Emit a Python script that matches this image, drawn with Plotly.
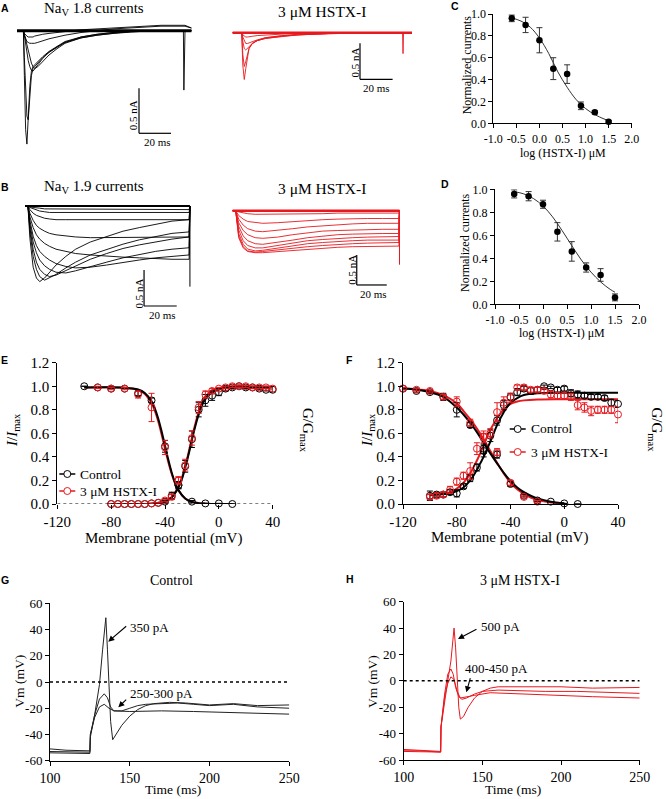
import plotly.graph_objects as go

W, H = 666, 799
SERIF = "Liberation Serif, Times New Roman, Times, serif"
SANS = "Liberation Sans, Arial, sans-serif"
RED = "#e8191e"
INK = "#000000"

# ---------------- DATA ----------------
# A: NaV1.8 current traces (time ms, current nA)
NAV18_T = [0, 4, 4.6, 5.4, 6.2, 7, 8, 9, 10, 11, 13, 16, 20, 25, 30, 40, 50, 60, 70, 80, 90, 100, 104, 104.3, 104.6, 105, 109]
NAV18_CTRL = [
    [0, 0, -0.5, -1.1, -1.26, -1.0, -0.62, -0.45, -0.40, -0.38, -0.34, -0.29, -0.23, -0.17, -0.12, -0.07, -0.04, -0.02, -0.01, 0, 0, 0, 0, -0.66, 0, 0, 0],
    [0, 0, -0.3, -0.7, -0.95, -0.99, -0.75, -0.50, -0.42, -0.40, -0.35, -0.30, -0.24, -0.18, -0.13, -0.08, -0.05, -0.03, -0.01, 0, 0, 0, 0, 0, 0, 0, 0],
    [0, 0, -0.05, -0.15, -0.25, -0.33, -0.40, -0.44, -0.45, -0.43, -0.38, -0.31, -0.24, -0.18, -0.13, -0.07, -0.04, -0.02, -0.01, 0, 0, 0, 0, 0, 0, 0, 0],
    [0, 0, -0.04, -0.1, -0.16, -0.22, -0.3, -0.36, -0.40, -0.42, -0.40, -0.34, -0.27, -0.2, -0.14, -0.08, -0.05, -0.03, -0.015, -0.005, 0, 0, 0, 0, 0, 0, 0],
    [0, 0, -0.05, -0.1, -0.12, -0.13, -0.14, -0.14, -0.14, -0.14, -0.13, -0.11, -0.09, -0.07, -0.05, -0.02, 0, 0.02, 0.03, 0.04, 0.05, 0.05, 0.05, 0.05, 0.05, 0.05, 0.03],
    [0, 0, -0.03, -0.05, -0.06, -0.07, -0.07, -0.07, -0.07, -0.06, -0.05, -0.04, -0.03, -0.02, -0.01, 0.01, 0.02, 0.03, 0.04, 0.05, 0.06, 0.06, 0.06, 0.06, 0.06, 0.06, 0.03],
]
NAV18_CTRL_BASE = [0] * 27

NAV18_HSTX_T = [0, 5.5, 6.2, 7.1, 8, 9, 10, 12, 15, 20, 30, 40, 60, 80, 100, 104.2, 104.5, 104.8, 110]
NAV18_HSTX = [
    [0, 0, -0.45, -0.65, -0.5, -0.32, -0.22, -0.15, -0.11, -0.07, -0.04, -0.03, -0.01, 0, 0, 0, -0.29, 0, 0],
    [0, 0, -0.3, -0.47, -0.4, -0.3, -0.22, -0.15, -0.11, -0.08, -0.05, -0.03, -0.01, 0, 0, 0, 0, 0, 0],
    [0, 0, -0.12, -0.22, -0.24, -0.22, -0.19, -0.15, -0.11, -0.08, -0.05, -0.03, -0.01, 0, 0, 0, 0, 0, 0],
    [0, 0, -0.06, -0.12, -0.15, -0.15, -0.14, -0.12, -0.1, -0.07, -0.04, -0.02, -0.01, 0, 0, 0, 0, 0, 0],
    [0, 0, -0.03, -0.05, -0.06, -0.06, -0.06, -0.05, -0.04, -0.03, -0.02, -0.01, 0, 0, 0, 0, 0, 0, 0],
]
NAV18_HSTX_BASE = [0] * 19

# B: NaV1.9 current traces (time ms, current nA)
NAV19_T = [0, 1.8, 3, 5, 7, 9, 12, 15, 19, 25, 31, 40, 50, 60, 70, 80, 90, 100.5, 101]
NAV19_CTRL = [
    [0, 0, -0.45, -0.85, -1.0, -1.05, -1.0, -0.92, -0.82, -0.7, -0.6, -0.5, -0.42, -0.35, -0.3, -0.25, -0.21, -0.19, 0],
    [0, 0, -0.35, -0.7, -0.88, -0.98, -1.03, -1.0, -0.95, -0.86, -0.78, -0.68, -0.6, -0.53, -0.47, -0.42, -0.38, -0.36, 0],
    [0, 0, -0.3, -0.6, -0.78, -0.88, -0.95, -0.98, -0.96, -0.9, -0.83, -0.74, -0.66, -0.59, -0.54, -0.5, -0.46, -0.43, 0],
    [0, 0, -0.25, -0.5, -0.65, -0.75, -0.83, -0.88, -0.92, -0.93, -0.9, -0.84, -0.78, -0.72, -0.67, -0.63, -0.6, -0.58, 0],
    [0, 0, -0.2, -0.42, -0.55, -0.63, -0.7, -0.75, -0.8, -0.84, -0.86, -0.85, -0.82, -0.78, -0.75, -0.72, -0.7, -0.68, 0],
    [0, 0, -0.15, -0.3, -0.4, -0.46, -0.52, -0.56, -0.6, -0.63, -0.66, -0.68, -0.7, -0.71, -0.72, -0.73, -0.74, -0.74, 0],
    [0, 0, -0.1, -0.2, -0.27, -0.31, -0.35, -0.38, -0.4, -0.42, -0.43, -0.44, -0.44, -0.44, -0.43, -0.43, -0.43, -0.43, 0],
    [0, 0, -0.05, -0.1, -0.13, -0.15, -0.17, -0.18, -0.19, -0.19, -0.19, -0.19, -0.19, -0.19, -0.19, -0.19, -0.19, -0.19, 0],
    [0, 0, -0.02, -0.04, -0.06, -0.07, -0.08, -0.09, -0.09, -0.09, -0.09, -0.09, -0.09, -0.09, -0.09, -0.09, -0.09, -0.09, 0],
    [0, 0, -0.01, -0.02, -0.03, -0.03, -0.04, -0.04, -0.04, -0.04, -0.05, -0.05, -0.05, -0.05, -0.05, -0.05, -0.05, -0.05, 0],
]
NAV19_CTRL_BASE = [0] * 19
NAV19_CTRL_ART_T = [101, 101]
NAV19_CTRL_ART_I = [0, -1.12]

NAV19_HSTX_T = [0, 2, 4, 7, 10, 15, 20, 30, 40, 50, 60, 70, 80, 90, 100, 110.8, 111.2]
NAV19_HSTX = [
    [0, 0, -0.45, -0.62, -0.68, -0.70, -0.70, -0.68, -0.66, -0.64, -0.62, -0.61, -0.6, -0.6, -0.59, -0.59, 0],
    [0, 0, -0.42, -0.6, -0.67, -0.69, -0.68, -0.65, -0.62, -0.6, -0.58, -0.56, -0.55, -0.54, -0.53, -0.53, 0],
    [0, 0, -0.38, -0.56, -0.64, -0.67, -0.66, -0.62, -0.58, -0.55, -0.53, -0.51, -0.5, -0.49, -0.49, -0.49, 0],
    [0, 0, -0.32, -0.5, -0.58, -0.62, -0.62, -0.58, -0.54, -0.5, -0.48, -0.46, -0.45, -0.44, -0.43, -0.43, 0],
    [0, 0, -0.26, -0.42, -0.5, -0.55, -0.56, -0.53, -0.49, -0.45, -0.42, -0.4, -0.39, -0.38, -0.38, -0.38, 0],
    [0, 0, -0.2, -0.33, -0.4, -0.45, -0.46, -0.44, -0.4, -0.37, -0.34, -0.33, -0.32, -0.31, -0.31, -0.31, 0],
    [0, 0, -0.14, -0.24, -0.3, -0.34, -0.35, -0.33, -0.3, -0.27, -0.25, -0.23, -0.22, -0.21, -0.21, -0.21, 0],
    [0, 0, -0.08, -0.14, -0.18, -0.2, -0.21, -0.2, -0.18, -0.16, -0.15, -0.14, -0.13, -0.13, -0.13, -0.13, 0],
    [0, 0, -0.02, -0.04, -0.05, -0.06, -0.06, -0.06, -0.05, -0.05, -0.05, -0.04, -0.04, -0.04, -0.04, -0.04, 0],
]
NAV19_HSTX_BASE = [0] * 17
NAV19_HSTX_ART_T = [111.2, 111.2]
NAV19_HSTX_ART_I = [0, -0.9]

# C, D: concentration-response
LOG_CONC = [-0.6, -0.3, 0.0, 0.3, 0.6, 0.9, 1.2, 1.5]
NAV18_NORM = [0.96, 0.90, 0.76, 0.50, 0.45, 0.16, 0.10, 0.015]
NAV18_SEM = [0.03, 0.07, 0.115, 0.10, 0.085, 0.035, 0.015, 0.01]
NAV19_NORM = [0.96, 0.94, 0.87, 0.63, 0.46, 0.32, 0.255, 0.06]
NAV19_SEM = [0.035, 0.04, 0.035, 0.08, 0.085, 0.04, 0.055, 0.03]
FIT_LOG = [-0.6, -0.4, -0.2, 0.0, 0.2, 0.4, 0.6, 0.8, 1.0, 1.2, 1.4, 1.5]
NAV18_FIT = [0.965, 0.935, 0.88, 0.78, 0.64, 0.47, 0.33, 0.215, 0.135, 0.08, 0.04, 0.025]
NAV19_FIT = [0.98, 0.96, 0.92, 0.855, 0.76, 0.64, 0.51, 0.385, 0.28, 0.195, 0.13, 0.105]
LOG_TICKS = [-1.0, -0.5, 0.0, 0.5, 1.0, 1.5, 2.0]
LOG_TICKTEXT = ["-1.0", "-0.5", "0.0", "0.5", "1.0", "1.5", "2.0"]
NORM_TICKS = [0, 0.2, 0.4, 0.6, 0.8, 1.0]
NORM_TICKTEXT = ["0.0", "0.2", "0.4", "0.6", "0.8", "1.0"]

# E: NaV1.8 gating
E_INACT_V_CTRL = [-100, -90, -80, -70, -60, -50, -40, -30, -20, -10, 0, 10]
E_INACT_CTRL = [1.0, 0.99, 0.98, 0.98, 0.94, 0.88, 0.49, 0.16, 0.02, 0.005, 0.005, 0.0]
E_INACT_CTRL_ERR = [0, 0, 0, 0, 0.02, 0.02, 0.05, 0.03, 0.01, 0, 0, 0]
E_INACT_V_HSTX = [-90, -80, -70, -60, -50, -40, -30]
E_INACT_HSTX = [0.99, 0.98, 0.98, 0.93, 0.82, 0.48, 0.20]
E_INACT_HSTX_ERR = [0.01, 0.01, 0.01, 0.03, 0.12, 0.06, 0.03]
E_ACT_V = [-80, -75, -70, -65, -60, -55, -50, -45, -40, -35, -30, -25, -20, -15, -10, -5, 0, 5, 10, 15, 20, 25, 30, 35, 40]
E_ACT_CTRL = [0, 0, 0, 0, 0, 0, 0.005, 0.01, 0.02, 0.07, 0.16, 0.32, 0.55, 0.80, 0.88, 0.92, 0.95, 0.98, 0.99, 1.0, 0.99, 0.99, 0.98, 0.97, 0.97]
E_ACT_CTRL_ERR = [0, 0, 0, 0, 0, 0, 0, 0, 0.01, 0.03, 0.03, 0.05, 0.07, 0.06, 0.05, 0.04, 0.03, 0.02, 0.01, 0.01, 0.01, 0.01, 0.01, 0.01, 0.02]
E_ACT_HSTX = [0, 0, 0, 0, 0, 0, 0.005, 0.01, 0.03, 0.06, 0.20, 0.33, 0.56, 0.82, 0.93, 0.96, 0.98, 0.99, 1.0, 1.0, 1.0, 0.99, 0.99, 0.99, 0.98]
E_ACT_HSTX_ERR = [0, 0, 0, 0, 0, 0, 0, 0, 0.01, 0.02, 0.03, 0.05, 0.06, 0.05, 0.03, 0.02, 0.01, 0.01, 0.01, 0.01, 0.01, 0.01, 0.01, 0.01, 0.01]
E_FIT_INACT_V = [-100, -70, -60, -55, -50, -47.5, -45, -42.5, -40, -37.5, -35, -32.5, -30, -25, -20, -15, -10, 0, 10]
E_FIT_INACT_CTRL = [0.99, 0.988, 0.972, 0.943, 0.872, 0.81, 0.724, 0.616, 0.495, 0.374, 0.266, 0.18, 0.118, 0.047, 0.018, 0.007, 0.003, 0.0, 0.0]
E_FIT_INACT_HSTX = [0.99, 0.987, 0.968, 0.935, 0.855, 0.79, 0.70, 0.59, 0.47, 0.355, 0.255, 0.175, 0.115, 0.047, 0.018, 0.007, 0.003, 0.0, 0.0]
E_FIT_ACT_V = [-80, -50, -40, -35, -30, -27.5, -25, -22.5, -20, -17.5, -15, -12.5, -10, -5, 0, 10, 20, 40]
E_FIT_ACT_CTRL = [0, 0.003, 0.022, 0.056, 0.14, 0.21, 0.31, 0.42, 0.545, 0.66, 0.76, 0.84, 0.89, 0.95, 0.975, 0.988, 0.99, 0.99]
E_FIT_ACT_HSTX = [0, 0.003, 0.024, 0.06, 0.15, 0.22, 0.32, 0.435, 0.56, 0.68, 0.78, 0.86, 0.91, 0.965, 0.985, 0.995, 0.997, 0.997]

# F: NaV1.9 gating
F_INACT_V_CTRL = [-120, -110, -100, -90, -80, -70, -60, -50, -40, -30, -20, -10, 0, 10]
F_INACT_CTRL = [0.98, 0.96, 0.95, 0.91, 0.80, 0.67, 0.47, 0.42, 0.17, 0.07, 0.03, 0.02, 0.005, 0.0]
F_INACT_CTRL_ERR = [0.01, 0.01, 0.01, 0.03, 0.06, 0.02, 0.04, 0.03, 0.02, 0.01, 0.01, 0, 0, 0]
F_INACT_V_HSTX = [-120, -110, -100, -90, -80, -70, -60, -50, -40, -30, -20]
F_INACT_HSTX = [0.98, 0.97, 0.96, 0.91, 0.87, 0.69, 0.57, 0.44, 0.18, 0.06, 0.02]
F_INACT_HSTX_ERR = [0.01, 0.01, 0.01, 0.02, 0.04, 0.03, 0.03, 0.03, 0.02, 0.01, 0.01]
F_ACT_V = [-100, -95, -90, -85, -80, -75, -70, -65, -60, -55, -50, -45, -40, -35, -30, -25, -20, -15, -10, -5, 0, 5, 10, 15, 20, 25, 30, 35, 40]
F_ACT_CTRL = [0.07, 0.08, 0.08, 0.10, 0.09, 0.15, 0.22, 0.31, 0.45, 0.58, 0.71, 0.84, 0.91, 0.95, 0.98, 0.96, 0.97, 1.0, 0.99, 0.97, 0.98, 0.94, 0.93, 0.92, 0.91, 0.91, 0.90, 0.86, 0.85]
F_ACT_CTRL_ERR = [0.04, 0.02, 0.02, 0.02, 0.03, 0.02, 0.03, 0.03, 0.05, 0.05, 0.04, 0.04, 0.03, 0.03, 0.02, 0.03, 0.02, 0.01, 0.01, 0.02, 0.02, 0.03, 0.03, 0.02, 0.02, 0.02, 0.02, 0.03, 0.03]
F_ACT_HSTX = [0.06, 0.07, 0.08, 0.12, 0.19, 0.24, 0.28, 0.47, 0.57, 0.60, 0.78, 0.86, 0.90, 0.99, 0.99, 0.97, 0.97, 0.96, 0.93, 0.92, 0.92, 0.91, 0.84, 0.82, 0.79, 0.80, 0.80, 0.80, 0.76]
F_ACT_HSTX_ERR = [0.02, 0.02, 0.02, 0.03, 0.03, 0.03, 0.07, 0.05, 0.05, 0.04, 0.08, 0.05, 0.04, 0.02, 0.02, 0.02, 0.02, 0.02, 0.03, 0.03, 0.03, 0.03, 0.04, 0.04, 0.04, 0.03, 0.03, 0.03, 0.07]
F_FIT_INACT_V = [-120, -110, -100, -90, -80, -75, -70, -65, -60, -55, -50, -45, -40, -35, -30, -25, -20, -10, 0]
F_FIT_INACT_CTRL = [0.98, 0.97, 0.95, 0.91, 0.82, 0.76, 0.69, 0.61, 0.52, 0.43, 0.345, 0.265, 0.195, 0.14, 0.10, 0.07, 0.048, 0.02, 0.007]
F_FIT_INACT_HSTX = [0.98, 0.975, 0.96, 0.925, 0.855, 0.79, 0.72, 0.64, 0.55, 0.45, 0.35, 0.26, 0.18, 0.125, 0.085, 0.055, 0.035, 0.013, 0.005]
F_FIT_ACT_V = [-100, -90, -85, -80, -75, -70, -65, -62.5, -60, -57.5, -55, -52.5, -50, -45, -40, -35, -30, -20, 0, 40]
F_FIT_ACT_CTRL = [0.08, 0.085, 0.09, 0.11, 0.14, 0.20, 0.29, 0.345, 0.40, 0.465, 0.53, 0.60, 0.67, 0.78, 0.86, 0.90, 0.925, 0.94, 0.945, 0.945]
F_FIT_ACT_HSTX = [0.075, 0.085, 0.10, 0.13, 0.18, 0.26, 0.37, 0.43, 0.50, 0.57, 0.63, 0.68, 0.73, 0.80, 0.85, 0.87, 0.88, 0.888, 0.89, 0.89]
MV_TICKS = [-120, -80, -40, 0, 40]
MV_TICKTEXT = ["-120", "-80", "-40", "0", "40"]
G_TICKS = [0, 0.2, 0.4, 0.6, 0.8, 1.0, 1.2]
G_TICKTEXT = ["0.0", "0.2", "0.4", "0.6", "0.8", "1.0", "1.2"]

# G, H: action potentials (time ms, Vm mV)
AP_CTRL_350_T = [100, 110, 125, 125.3, 128, 131, 133, 134, 135, 136, 137, 138, 139.3, 141, 145, 150, 155, 160, 165, 175, 185, 200, 215, 230, 250]
AP_CTRL_350_V = [-51, -52, -52.5, -42, -25, -2, 25, 40, 49, 25, -5, -30, -44, -41, -33, -26, -21, -18, -16.5, -15.5, -16, -17.5, -16.5, -18, -17.5]
AP_CTRL_MID_T = [100, 110, 125, 125.3, 128, 131, 134, 136, 138, 140, 145, 150, 155, 160, 170, 180, 190, 200, 215, 230, 250]
AP_CTRL_MID_V = [-53, -53, -53.5, -40, -25, -13, -9, -12, -19, -22, -22, -20, -18, -17, -16.5, -16, -17, -18, -17, -19, -20]
AP_CTRL_LOW_T = [100, 110, 125, 125.3, 128, 131, 134, 137, 140, 150, 170, 190, 210, 230, 250]
AP_CTRL_LOW_V = [-54, -54, -54.5, -40, -27, -19, -17, -20, -22, -22.5, -22, -22.5, -23, -23.5, -24.5]
AP_HSTX_500_T = [100, 110, 123.5, 123.7, 126, 128, 130, 132, 133, 134, 135, 136, 138, 141, 145, 150, 155, 160, 170, 180, 200, 220, 250]
AP_HSTX_500_V = [-52, -52.5, -53.5, -35, -15, 0, 15, 40, 25, 0, -20, -29, -27, -20, -13, -8, -5.5, -4.5, -4.5, -5, -4.5, -5.5, -5]
AP_HSTX_450_T = [100, 110, 123.5, 123.7, 126, 128, 130, 131.5, 133, 135, 137, 140, 145, 150, 160, 170, 190, 210, 230, 250]
AP_HSTX_450_V = [-53, -53, -54, -35, -10, 5, 9, 5, -5, -12, -14, -13, -10, -8, -7, -7.5, -8, -8, -9, -9.5]
AP_HSTX_400_T = [100, 110, 123.5, 123.7, 126, 128, 130, 132, 134, 136, 140, 145, 155, 165, 180, 200, 220, 250]
AP_HSTX_400_V = [-53.5, -53.5, -54, -35, -12, -2, 3, 1, -8, -13, -12, -11, -9, -9.5, -10, -11, -12, -13]
TIME_TICKS = [100, 150, 200, 250]
VM_TICKS = [-60, -40, -20, 0, 20, 40, 60]
VM_TICKTEXT = ["-60", "-40", "-20", "0", "20", "40", "60"]

# ---------------- HELPERS ----------------
def px(x):
    return x / W


def py(y):
    return 1 - y / H


def trace_axes(box, t0, pxms, i0, pxna):
    x0, x1, ytop, ybot = box
    xa = dict(domain=[px(x0), px(x1)], range=[(x0 - t0) / pxms, (x1 - t0) / pxms],
              visible=False, fixedrange=True)
    ya = dict(domain=[py(ybot), py(ytop)], range=[(i0 - ybot) / pxna, (i0 - ytop) / pxna],
              visible=False, fixedrange=True)
    return xa, ya


def lin_axis(x0, x1, rng, tickvals, ticktext, fsize, anchor, showline=True, **kw):
    d = dict(domain=[x0, x1], range=rng, tickmode="array", tickvals=tickvals, ticktext=ticktext,
             ticks="outside", ticklen=4, tickwidth=1, tickcolor=INK, showline=showline,
             linecolor=INK, linewidth=1, showgrid=False, zeroline=False,
             tickfont=dict(family=SERIF, size=fsize, color=INK), anchor=anchor,
             fixedrange=True, automargin=False)
    d.update(kw)
    return d


def txt(x, y, s, size, xanchor="center", angle=0, family=SERIF, color=INK):
    return dict(x=px(x), y=py(y), xref="paper", yref="paper", text=s, showarrow=False,
                font=dict(family=family, size=size, color=color), xanchor=xanchor,
                yanchor="middle", textangle=angle)


fig = go.Figure()
annotations = []
shapes = []


def line_trace(x, y, xa, ya, color, width=1, shape="linear"):
    fig.add_trace(go.Scatter(x=x, y=y, mode="lines", xaxis=xa, yaxis=ya, showlegend=False,
                             hoverinfo="skip", line=dict(color=color, width=width, shape=shape)))


def scale_bar(xref, yref, tc, ic, color=INK):
    shapes.append(dict(type="line", xref=xref, yref=yref, x0=tc, x1=tc, y0=ic, y1=ic + 0.5,
                       line=dict(color=color, width=1.2)))
    shapes.append(dict(type="line", xref=xref, yref=yref, x0=tc, x1=tc + 20, y0=ic, y1=ic,
                       line=dict(color=color, width=1.2)))


# ---------------- A ----------------
xa1, ya1 = trace_axes((5, 200, 20, 152), 17, 1.6, 30.7, 90)
xa2, ya2 = trace_axes((225, 420, 20, 100), 232.7, 1.63, 32.7, 72)
for tr in NAV18_CTRL:
    line_trace(NAV18_T, tr, "x", "y", INK, 0.9)
line_trace(NAV18_T, NAV18_CTRL_BASE, "x", "y", INK, 3)
for tr in NAV18_HSTX:
    line_trace(NAV18_HSTX_T, tr, "x2", "y2", RED, 0.9)
line_trace(NAV18_HSTX_T, NAV18_HSTX_BASE, "x2", "y2", RED, 2.5)
scale_bar("x", "y", 76.25, -1.14)
scale_bar("x2", "y2", 78.1, -0.647)

# ---------------- B ----------------
xa4, ya4 = trace_axes((15, 205, 195, 322), 25, 1.633, 206, 72)
xa5, ya5 = trace_axes((225, 420, 195, 322), 232.7, 1.5, 210.7, 60)
for tr in NAV19_CTRL:
    line_trace(NAV19_T, tr, "x4", "y4", INK, 0.9)
line_trace(NAV19_T, NAV19_CTRL_BASE, "x4", "y4", INK, 2.2)
line_trace(NAV19_CTRL_ART_T, NAV19_CTRL_ART_I, "x4", "y4", INK, 1)
for tr in NAV19_HSTX:
    line_trace(NAV19_HSTX_T, tr, "x5", "y5", RED, 0.9)
line_trace(NAV19_HSTX_T, NAV19_HSTX_BASE, "x5", "y5", RED, 2.5)
line_trace(NAV19_HSTX_ART_T, NAV19_HSTX_ART_I, "x5", "y5", RED, 1)
scale_bar("x4", "y4", 72.9, -1.389)
scale_bar("x5", "y5", 82.7, -1.238)

# ---------------- C, D ----------------
for (xr, yr, fit, vals, sem) in [("x3", "y3", NAV18_FIT, NAV18_NORM, NAV18_SEM),
                                 ("x6", "y6", NAV19_FIT, NAV19_NORM, NAV19_SEM)]:
    line_trace(FIT_LOG, fit, xr, yr, "#333333", 1, "spline")
    fig.add_trace(go.Scatter(x=LOG_CONC, y=vals, mode="markers", xaxis=xr, yaxis=yr,
                             showlegend=False, cliponaxis=False,
                             marker=dict(symbol="circle", size=6.5, color=INK),
                             error_y=dict(type="data", array=sem, visible=True, color="#333333",
                                          thickness=1, width=3)))

# ---------------- E, F ----------------
def gating_panel(xr, yr, fits, points):
    for v, y, col in fits:
        line_trace(v, y, xr, yr, col, 2, "spline")
    for v, y, e, col in points:
        fig.add_trace(go.Scatter(x=v, y=y, mode="markers", xaxis=xr, yaxis=yr, showlegend=False,
                                 cliponaxis=False,
                                 marker=dict(symbol="circle-open", size=7, color=col,
                                             line=dict(width=1, color=col)),
                                 error_y=dict(type="data", array=e, visible=True, color=col,
                                              thickness=1, width=3)))


gating_panel("x7", "y7",
             [(E_FIT_INACT_V, E_FIT_INACT_HSTX, RED), (E_FIT_ACT_V, E_FIT_ACT_HSTX, RED),
              (E_FIT_INACT_V, E_FIT_INACT_CTRL, INK), (E_FIT_ACT_V, E_FIT_ACT_CTRL, INK)],
             [(E_INACT_V_CTRL, E_INACT_CTRL, E_INACT_CTRL_ERR, INK),
              (E_ACT_V, E_ACT_CTRL, E_ACT_CTRL_ERR, INK),
              (E_INACT_V_HSTX, E_INACT_HSTX, E_INACT_HSTX_ERR, RED),
              (E_ACT_V, E_ACT_HSTX, E_ACT_HSTX_ERR, RED)])
gating_panel("x8", "y9",
             [(F_FIT_INACT_V, F_FIT_INACT_HSTX, RED), (F_FIT_ACT_V, F_FIT_ACT_HSTX, RED),
              (F_FIT_INACT_V, F_FIT_INACT_CTRL, INK), (F_FIT_ACT_V, F_FIT_ACT_CTRL, INK)],
             [(F_INACT_V_CTRL, F_INACT_CTRL, F_INACT_CTRL_ERR, INK),
              (F_ACT_V, F_ACT_CTRL, F_ACT_CTRL_ERR, INK),
              (F_INACT_V_HSTX, F_INACT_HSTX, F_INACT_HSTX_ERR, RED),
              (F_ACT_V, F_ACT_HSTX, F_ACT_HSTX_ERR, RED)])
shapes.append(dict(type="line", xref="x7", yref="y7", x0=-120, x1=40, y0=0, y1=0,
                   line=dict(color=INK, width=1.2, dash="dot")))

# ---------------- G, H ----------------
for t, v in [(AP_CTRL_LOW_T, AP_CTRL_LOW_V), (AP_CTRL_MID_T, AP_CTRL_MID_V), (AP_CTRL_350_T, AP_CTRL_350_V)]:
    line_trace(t, v, "x9", "y11", "#222222", 1)
for t, v in [(AP_HSTX_400_T, AP_HSTX_400_V), (AP_HSTX_450_T, AP_HSTX_450_V), (AP_HSTX_500_T, AP_HSTX_500_V)]:
    line_trace(t, v, "x10", "y12", RED, 1)
for xr, yr in [("x9", "y11"), ("x10", "y12")]:
    shapes.append(dict(type="line", xref=xr, yref=yr, x0=100, x1=250, y0=0, y1=0,
                       line=dict(color=INK, width=1.5, dash="dot")))


def arrow(xr, yr, tail, head):
    annotations.append(dict(xref=xr, yref=yr, axref=xr, ayref=yr, x=head[0], y=head[1],
                            ax=tail[0], ay=tail[1], text="", showarrow=True, arrowhead=2,
                            arrowsize=1.1, arrowwidth=1.1, arrowcolor=INK))


def data_text(xr, yr, x, y, s):
    annotations.append(dict(xref=xr, yref=yr, x=x, y=y, text=s, showarrow=False, xanchor="left",
                            yanchor="middle", font=dict(family=SERIF, size=13, color=INK)))


arrow("x9", "y11", (148.7, 43.5), (136.5, 30.7))
data_text("x9", "y11", 149.2, 41.5, "350 pA")
arrow("x9", "y11", (148.7, -12.4), (142.8, -19.3))
data_text("x9", "y11", 149.1, -8.5, "250-300 pA")
arrow("x10", "y12", (147.2, 39.8), (134.5, 31.7))
data_text("x10", "y12", 147.7, 41.1, "500 pA")
arrow("x10", "y12", (142.6, 3.2), (139.8, -8.7))
data_text("x10", "y12", 137.7, 9.5, "400-450 pA")

# ---------------- LAYOUT ----------------
layout = dict(
    width=W, height=H, margin=dict(l=0, r=0, t=0, b=0), paper_bgcolor="white",
    plot_bgcolor="rgba(0,0,0,0)", showlegend=False,
    font=dict(family=SERIF, color=INK),
    xaxis=xa1, yaxis=ya1, xaxis2=xa2, yaxis2=ya2, xaxis4=xa4, yaxis4=ya4, xaxis5=xa5, yaxis5=ya5,
)
# C
layout["xaxis3"] = lin_axis(px(493.3), px(631.7), [-1, 2], LOG_TICKS, LOG_TICKTEXT, 12, "y3")
layout["yaxis3"] = lin_axis(py(123.3), py(14), [0, 1], NORM_TICKS, NORM_TICKTEXT, 12, "x3")
# D
layout["xaxis6"] = lin_axis(px(495), px(639), [-1, 2], LOG_TICKS, LOG_TICKTEXT, 12, "y6")
layout["yaxis6"] = lin_axis(py(304.3), py(189.3), [0, 1], NORM_TICKS, NORM_TICKTEXT, 12, "x6")
# E
layout["xaxis7"] = lin_axis(px(57.3), px(272.7), [-120, 40], MV_TICKS, MV_TICKTEXT, 15, "y7", showline=False)
layout["yaxis7"] = lin_axis(py(504), py(362.7), [0, 1.2], G_TICKS, G_TICKTEXT, 15, "x7")
layout["yaxis8"] = lin_axis(py(504), py(362.7), [0, 1.2], G_TICKS, G_TICKTEXT, 15, "x7",
                            overlaying="y7", side="right")
# F
layout["xaxis8"] = lin_axis(px(403), px(618), [-120, 40], MV_TICKS, MV_TICKTEXT, 15, "y9")
layout["yaxis9"] = lin_axis(py(504), py(362.7), [0, 1.2], G_TICKS, G_TICKTEXT, 15, "x8")
layout["yaxis10"] = lin_axis(py(504), py(362.7), [0, 1.2], G_TICKS, G_TICKTEXT, 15, "x8",
                             overlaying="y9", side="right")
# G
layout["xaxis9"] = lin_axis(px(50), px(289.3), [100, 250], TIME_TICKS, [str(t) for t in TIME_TICKS], 14, "y11")
layout["yaxis11"] = lin_axis(py(760.7), py(603.3), [-60, 60], VM_TICKS, VM_TICKTEXT, 13, "x9")
# H
layout["xaxis10"] = lin_axis(px(403.7), px(639.7), [100, 250], TIME_TICKS, [str(t) for t in TIME_TICKS], 14, "y12")
layout["yaxis12"] = lin_axis(py(760), py(601.7), [-60, 60], VM_TICKS, VM_TICKTEXT, 13, "x10")

# panel letters
for L, x, y in [("A", 5, 8.5), ("C", 455, 5.5), ("B", 4.5, 187), ("D", 445, 183.7),
                ("E", 4.5, 360), ("F", 349.5, 360), ("G", 5, 579.7), ("H", 350, 579)]:
    annotations.append(txt(x, y, "<b>%s</b>" % L, 10.5, family=SANS))

# titles of trace panels
annotations += [
    txt(93.5, 9, "Na<sub>V</sub> 1.8 currents", 15),
    txt(321.7, 11.5, "3 μM HSTX-I", 15.5),
    txt(94, 187, "Na<sub>V</sub> 1.9 currents", 15),
    txt(321.7, 188.3, "3 μM HSTX-I", 15.5),
    # scale bar labels
    txt(132.5, 115.8, "0.5 nA", 11, angle=-90), txt(157.3, 141.7, "20 ms", 11),
    txt(355, 62.5, "0.5 nA", 11, angle=-90), txt(376.7, 87.5, "20 ms", 11),
    txt(139.2, 293.3, "0.5 nA", 11, angle=-90), txt(162.8, 314.7, "20 ms", 11),
    txt(351.7, 270, "0.5 nA", 11, angle=-90), txt(373, 293.8, "20 ms", 11),
    # C, D axis titles
    txt(562.5, 153.5, "log (HSTX-I) μM", 12), txt(467.3, 65, "Normalized currents", 12, angle=-90),
    txt(562, 333.3, "log (HSTX-I) μM", 12), txt(465, 243, "Normalized currents", 12, angle=-90),
    # E, F axis titles
    txt(163, 538, "Membrane potential (mV)", 15), txt(509.7, 537, "Membrane potential (mV)", 15),
    txt(13, 430, "<i>I</i>/<i>I</i><sub>max</sub>", 15, angle=-90),
    txt(307, 430, "G/G<sub>max</sub>", 15, angle=90),
    txt(368, 430, "<i>I</i>/<i>I</i><sub>max</sub>", 15, angle=-90),
    txt(655.5, 430, "G/G<sub>max</sub>", 15, angle=90),
    # G, H
    txt(171.7, 580, "Control", 14), txt(519.7, 580, "3 μM HSTX-I", 14),
    txt(172.5, 789, "Time (ms)", 13.5), txt(513, 789, "Time (ms)", 13.5),
    txt(20, 681.7, "Vm (mV)", 13.5, angle=-90), txt(372, 681, "Vm (mV)", 13.5, angle=-90),
]

# legends for E and F (drawn)
for (lx, cy, label, col) in [(59.3, 474, "Control", INK), (59.3, 491, "3 μM HSTX-I", RED),
                             (509.7, 429, "Control", INK), (509.7, 452, "3 μM HSTX-I", RED)]:
    shapes.append(dict(type="line", xref="paper", yref="paper", x0=px(lx), x1=px(lx + 16),
                       y0=py(cy), y1=py(cy), line=dict(color=col, width=1.5)))
    cx = lx + 8
    shapes.append(dict(type="circle", xref="paper", yref="paper", x0=px(cx - 3.5), x1=px(cx + 3.5),
                       y0=py(cy + 3.5), y1=py(cy - 3.5), fillcolor="white",
                       line=dict(color=col, width=1)))
    annotations.append(txt(lx + 19, cy, label, 13.5, xanchor="left"))

layout["annotations"] = annotations
layout["shapes"] = shapes
fig.update_layout(**layout)
fig.write_html("out.html", config={"displayModeBar": False},
               post_script="document.body.style.margin='0px';")
